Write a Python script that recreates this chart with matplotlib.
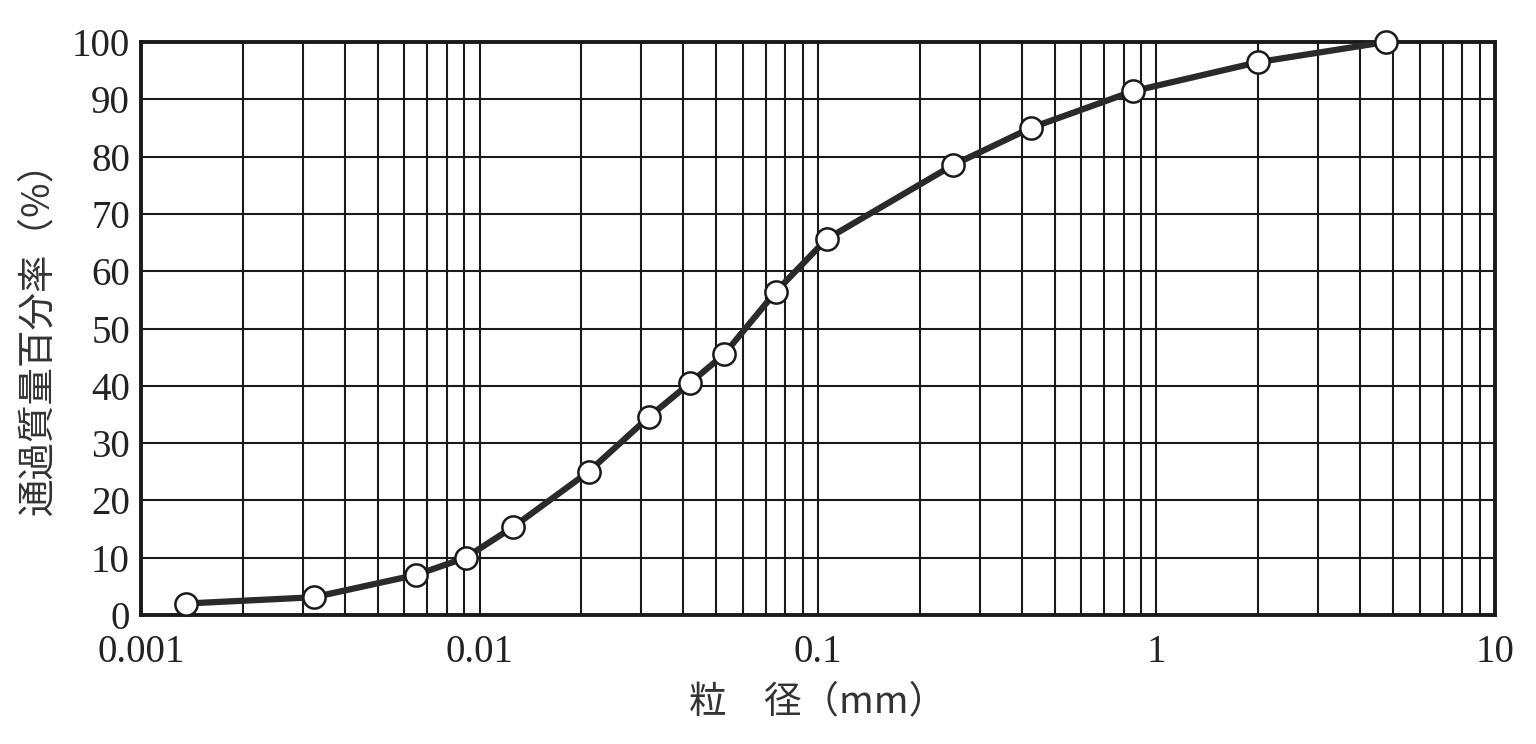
import matplotlib
matplotlib.use("Agg")
import matplotlib.pyplot as plt
from matplotlib.ticker import LogLocator, FixedLocator, FixedFormatter

# 粒径加積曲線のデータ
grain_size = [0.00136, 0.00324, 0.0065, 0.0091, 0.0126, 0.021, 0.0317,
              0.0419, 0.0528, 0.075, 0.106, 0.25, 0.425, 0.85, 2.0, 4.75]
passing = [2.0, 3.1, 7.0, 10.0, 15.4, 25.0, 34.6,
           40.5, 45.5, 56.4, 65.6, 78.5, 85.0, 91.4, 96.5, 100.0]

x_ticks = [0.001, 0.01, 0.1, 1, 10]
x_tick_labels = ["0.001", "0.01", "0.1", "1", "10"]
y_ticks = list(range(0, 101, 10))

FONTS = ["Liberation Serif", "Noto Sans CJK JP"]
plt.rcParams["font.family"] = FONTS

fig = plt.figure(figsize=(15.36, 7.44), dpi=100)
ax = fig.add_axes([0.0918, 0.1734, 0.8815, 0.7701])

ax.set_xscale("log")
ax.set_xlim(0.001, 10)
ax.set_ylim(0, 100)

ax.xaxis.set_major_locator(FixedLocator(x_ticks))
ax.xaxis.set_major_formatter(FixedFormatter(x_tick_labels))
ax.xaxis.set_minor_locator(LogLocator(base=10, subs=range(2, 10), numticks=20))
ax.yaxis.set_major_locator(FixedLocator(y_ticks))

ax.grid(True, which="both", axis="x", color="#1a1a1a", linewidth=1.5)
ax.grid(True, which="major", axis="y", color="#1a1a1a", linewidth=1.5)
ax.tick_params(which="both", length=0, labelsize=28, colors="#222222")
ax.tick_params(axis="x", pad=14)
ax.tick_params(axis="y", pad=8)
ax.set_axisbelow(True)

for sp in ax.spines.values():
    sp.set_linewidth(2.8)
    sp.set_color("#1a1a1a")

ax.plot(grain_size, passing, "-", color="#2a2a2a", linewidth=4.5, zorder=3)
ax.plot(grain_size, passing, "o", markersize=16, markerfacecolor="white",
        markeredgecolor="#1a1a1a", markeredgewidth=1.8, zorder=4, clip_on=False)

ax.set_xlabel("粒　径（mm）", fontsize=27, family=["Noto Sans CJK JP"],
              color="#333333", labelpad=8)
ax.set_ylabel("通過質量百分率（%）", fontsize=27, family=["Noto Sans CJK JP"],
              color="#333333", labelpad=10)

fig.savefig("out.png", dpi=100)
plt.close(fig)
